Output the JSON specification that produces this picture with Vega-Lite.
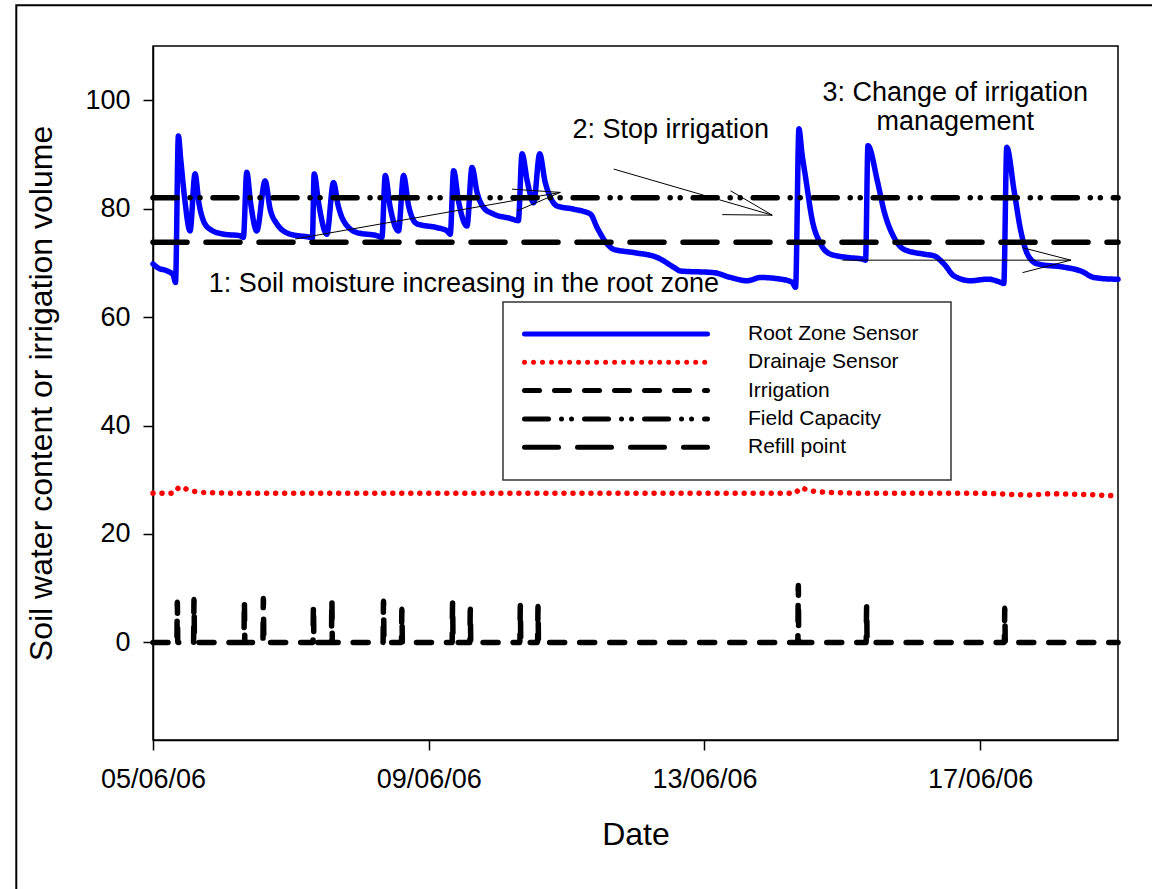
{
  "$schema": "https://vega.github.io/schema/vega-lite/v6.json",
  "autosize": {"type": "none"},
  "padding": {"left": 153, "top": 46, "right": 34, "bottom": 149},
  "width": 965,
  "height": 694,
  "background": "white",
  "config": {
    "view": {"stroke": "black", "strokeWidth": 1.5},
    "font": "Liberation Sans",
    "axis": {
      "grid": false, "domainColor": "black", "domainWidth": 1.5,
      "tickColor": "black", "tickWidth": 1.5, "tickSize": 10,
      "labelFont": "Liberation Sans", "labelFontSize": 27, "labelColor": "black",
      "titleFont": "Liberation Sans", "titleFontSize": 32, "titleFontWeight": "normal", "titleColor": "black"
    },
    "legend": {
      "padding": 19, "strokeColor": "#333333", "strokeWidth": 1.5, "fillColor": "white",
      "labelFont": "Liberation Sans", "labelFontSize": 21, "labelColor": "black",
      "symbolType": "stroke", "symbolSize": 33489, "symbolStrokeWidth": 5,
      "clipHeight": 26, "rowPadding": 2.3, "labelOffset": 38, "labelLimit": 400
    }
  },
  "datasets": {
    "series": [
      {"series": "Root Zone Sensor", "t": "2006-06-05T00:00", "v": 69.8},
      {"series": "Root Zone Sensor", "t": "2006-06-05T02:00", "v": 69.0},
      {"series": "Root Zone Sensor", "t": "2006-06-05T04:30", "v": 68.6},
      {"series": "Root Zone Sensor", "t": "2006-06-05T07:00", "v": 67.8},
      {"series": "Root Zone Sensor", "t": "2006-06-05T07:50", "v": 66.4},
      {"series": "Root Zone Sensor", "t": "2006-06-05T08:50", "v": 93.4},
      {"series": "Root Zone Sensor", "t": "2006-06-05T09:40", "v": 89.0},
      {"series": "Root Zone Sensor", "t": "2006-06-05T11:00", "v": 82.0},
      {"series": "Root Zone Sensor", "t": "2006-06-05T12:54", "v": 75.9},
      {"series": "Root Zone Sensor", "t": "2006-06-05T14:38", "v": 86.4},
      {"series": "Root Zone Sensor", "t": "2006-06-05T16:00", "v": 81.0},
      {"series": "Root Zone Sensor", "t": "2006-06-05T17:32", "v": 77.8},
      {"series": "Root Zone Sensor", "t": "2006-06-05T19:52", "v": 76.2},
      {"series": "Root Zone Sensor", "t": "2006-06-06T00:30", "v": 75.3},
      {"series": "Root Zone Sensor", "t": "2006-06-06T06:19", "v": 75.0},
      {"series": "Root Zone Sensor", "t": "2006-06-06T07:28", "v": 74.7},
      {"series": "Root Zone Sensor", "t": "2006-06-06T08:39", "v": 86.7},
      {"series": "Root Zone Sensor", "t": "2006-06-06T10:00", "v": 81.0},
      {"series": "Root Zone Sensor", "t": "2006-06-06T12:08", "v": 75.9},
      {"series": "Root Zone Sensor", "t": "2006-06-06T15:02", "v": 85.1},
      {"series": "Root Zone Sensor", "t": "2006-06-06T16:45", "v": 80.0},
      {"series": "Root Zone Sensor", "t": "2006-06-06T19:07", "v": 77.2},
      {"series": "Root Zone Sensor", "t": "2006-06-06T23:45", "v": 75.3},
      {"series": "Root Zone Sensor", "t": "2006-06-07T06:43", "v": 74.7},
      {"series": "Root Zone Sensor", "t": "2006-06-07T07:30", "v": 74.6},
      {"series": "Root Zone Sensor", "t": "2006-06-07T08:07", "v": 86.4},
      {"series": "Root Zone Sensor", "t": "2006-06-07T09:40", "v": 81.0},
      {"series": "Root Zone Sensor", "t": "2006-06-07T12:32", "v": 75.3},
      {"series": "Root Zone Sensor", "t": "2006-06-07T14:50", "v": 84.8},
      {"series": "Root Zone Sensor", "t": "2006-06-07T16:30", "v": 80.5},
      {"series": "Root Zone Sensor", "t": "2006-06-07T18:19", "v": 77.8},
      {"series": "Root Zone Sensor", "t": "2006-06-07T22:59", "v": 75.6},
      {"series": "Root Zone Sensor", "t": "2006-06-08T05:58", "v": 75.0},
      {"series": "Root Zone Sensor", "t": "2006-06-08T07:42", "v": 74.7},
      {"series": "Root Zone Sensor", "t": "2006-06-08T08:52", "v": 86.1},
      {"series": "Root Zone Sensor", "t": "2006-06-08T10:30", "v": 80.5},
      {"series": "Root Zone Sensor", "t": "2006-06-08T13:29", "v": 75.9},
      {"series": "Root Zone Sensor", "t": "2006-06-08T15:14", "v": 86.1},
      {"series": "Root Zone Sensor", "t": "2006-06-08T17:00", "v": 80.5},
      {"series": "Root Zone Sensor", "t": "2006-06-08T19:54", "v": 77.2},
      {"series": "Root Zone Sensor", "t": "2006-06-09T02:52", "v": 76.5},
      {"series": "Root Zone Sensor", "t": "2006-06-09T06:22", "v": 75.9},
      {"series": "Root Zone Sensor", "t": "2006-06-09T07:30", "v": 75.3},
      {"series": "Root Zone Sensor", "t": "2006-06-09T08:40", "v": 87.0},
      {"series": "Root Zone Sensor", "t": "2006-06-09T10:20", "v": 81.5},
      {"series": "Root Zone Sensor", "t": "2006-06-09T13:20", "v": 76.8},
      {"series": "Root Zone Sensor", "t": "2006-06-09T15:04", "v": 87.6},
      {"series": "Root Zone Sensor", "t": "2006-06-09T16:50", "v": 83.0},
      {"series": "Root Zone Sensor", "t": "2006-06-09T19:07", "v": 80.2},
      {"series": "Root Zone Sensor", "t": "2006-06-09T22:36", "v": 79.0},
      {"series": "Root Zone Sensor", "t": "2006-06-10T04:25", "v": 78.2},
      {"series": "Root Zone Sensor", "t": "2006-06-10T07:12", "v": 77.8},
      {"series": "Root Zone Sensor", "t": "2006-06-10T08:30", "v": 90.1},
      {"series": "Root Zone Sensor", "t": "2006-06-10T10:20", "v": 85.0},
      {"series": "Root Zone Sensor", "t": "2006-06-10T12:32", "v": 81.1},
      {"series": "Root Zone Sensor", "t": "2006-06-10T14:38", "v": 90.1},
      {"series": "Root Zone Sensor", "t": "2006-06-10T16:30", "v": 85.0},
      {"series": "Root Zone Sensor", "t": "2006-06-10T18:21", "v": 82.1},
      {"series": "Root Zone Sensor", "t": "2006-06-10T20:41", "v": 80.5},
      {"series": "Root Zone Sensor", "t": "2006-06-11T02:29", "v": 79.9},
      {"series": "Root Zone Sensor", "t": "2006-06-11T08:18", "v": 79.0},
      {"series": "Root Zone Sensor", "t": "2006-06-11T10:38", "v": 76.5},
      {"series": "Root Zone Sensor", "t": "2006-06-11T14:07", "v": 73.5},
      {"series": "Root Zone Sensor", "t": "2006-06-11T16:25", "v": 72.5},
      {"series": "Root Zone Sensor", "t": "2006-06-11T23:23", "v": 71.9},
      {"series": "Root Zone Sensor", "t": "2006-06-12T07:32", "v": 71.0},
      {"series": "Root Zone Sensor", "t": "2006-06-12T13:20", "v": 69.2},
      {"series": "Root Zone Sensor", "t": "2006-06-12T15:40", "v": 68.5},
      {"series": "Root Zone Sensor", "t": "2006-06-13T03:16", "v": 68.2},
      {"series": "Root Zone Sensor", "t": "2006-06-13T09:05", "v": 67.3},
      {"series": "Root Zone Sensor", "t": "2006-06-13T14:55", "v": 66.7},
      {"series": "Root Zone Sensor", "t": "2006-06-13T19:32", "v": 67.3},
      {"series": "Root Zone Sensor", "t": "2006-06-14T02:31", "v": 67.0},
      {"series": "Root Zone Sensor", "t": "2006-06-14T06:35", "v": 66.4},
      {"series": "Root Zone Sensor", "t": "2006-06-14T07:44", "v": 65.5},
      {"series": "Root Zone Sensor", "t": "2006-06-14T08:54", "v": 94.7},
      {"series": "Root Zone Sensor", "t": "2006-06-14T10:00", "v": 90.0},
      {"series": "Root Zone Sensor", "t": "2006-06-14T11:13", "v": 85.8},
      {"series": "Root Zone Sensor", "t": "2006-06-14T13:34", "v": 77.8},
      {"series": "Root Zone Sensor", "t": "2006-06-14T16:27", "v": 73.5},
      {"series": "Root Zone Sensor", "t": "2006-06-14T19:56", "v": 71.6},
      {"series": "Root Zone Sensor", "t": "2006-06-15T01:46", "v": 71.0},
      {"series": "Root Zone Sensor", "t": "2006-06-15T06:59", "v": 70.7},
      {"series": "Root Zone Sensor", "t": "2006-06-15T08:06", "v": 70.5},
      {"series": "Root Zone Sensor", "t": "2006-06-15T08:56", "v": 91.6},
      {"series": "Root Zone Sensor", "t": "2006-06-15T12:13", "v": 85.1},
      {"series": "Root Zone Sensor", "t": "2006-06-15T14:31", "v": 79.6},
      {"series": "Root Zone Sensor", "t": "2006-06-15T18:00", "v": 74.7},
      {"series": "Root Zone Sensor", "t": "2006-06-15T21:29", "v": 72.5},
      {"series": "Root Zone Sensor", "t": "2006-06-16T04:27", "v": 71.6},
      {"series": "Root Zone Sensor", "t": "2006-06-16T07:56", "v": 71.3},
      {"series": "Root Zone Sensor", "t": "2006-06-16T11:25", "v": 69.8},
      {"series": "Root Zone Sensor", "t": "2006-06-16T14:54", "v": 67.6},
      {"series": "Root Zone Sensor", "t": "2006-06-16T20:43", "v": 66.7},
      {"series": "Root Zone Sensor", "t": "2006-06-17T02:33", "v": 67.0},
      {"series": "Root Zone Sensor", "t": "2006-06-17T07:11", "v": 66.4},
      {"series": "Root Zone Sensor", "t": "2006-06-17T08:14", "v": 66.2},
      {"series": "Root Zone Sensor", "t": "2006-06-17T09:16", "v": 91.3},
      {"series": "Root Zone Sensor", "t": "2006-06-17T11:49", "v": 83.3},
      {"series": "Root Zone Sensor", "t": "2006-06-17T14:09", "v": 75.9},
      {"series": "Root Zone Sensor", "t": "2006-06-17T16:29", "v": 71.6},
      {"series": "Root Zone Sensor", "t": "2006-06-17T19:58", "v": 69.8},
      {"series": "Root Zone Sensor", "t": "2006-06-18T05:14", "v": 69.2},
      {"series": "Root Zone Sensor", "t": "2006-06-18T11:04", "v": 68.5},
      {"series": "Root Zone Sensor", "t": "2006-06-18T15:42", "v": 67.3},
      {"series": "Root Zone Sensor", "t": "2006-06-18T22:40", "v": 67.0},
      {"series": "Root Zone Sensor", "t": "2006-06-19T00:00", "v": 67.0},

      {"series": "Drainaje Sensor", "t": "2006-06-05T00:00", "v": 27.5},
      {"series": "Drainaje Sensor", "t": "2006-06-05T07:00", "v": 27.5},
      {"series": "Drainaje Sensor", "t": "2006-06-05T09:30", "v": 28.7},
      {"series": "Drainaje Sensor", "t": "2006-06-05T12:00", "v": 28.2},
      {"series": "Drainaje Sensor", "t": "2006-06-05T15:00", "v": 27.8},
      {"series": "Drainaje Sensor", "t": "2006-06-05T20:00", "v": 27.6},
      {"series": "Drainaje Sensor", "t": "2006-06-06T12:00", "v": 27.5},
      {"series": "Drainaje Sensor", "t": "2006-06-10T12:00", "v": 27.5},
      {"series": "Drainaje Sensor", "t": "2006-06-14T07:30", "v": 27.5},
      {"series": "Drainaje Sensor", "t": "2006-06-14T09:30", "v": 28.5},
      {"series": "Drainaje Sensor", "t": "2006-06-14T12:00", "v": 28.1},
      {"series": "Drainaje Sensor", "t": "2006-06-14T18:00", "v": 27.7},
      {"series": "Drainaje Sensor", "t": "2006-06-15T12:00", "v": 27.5},
      {"series": "Drainaje Sensor", "t": "2006-06-17T00:00", "v": 27.5},
      {"series": "Drainaje Sensor", "t": "2006-06-17T18:00", "v": 27.2},
      {"series": "Drainaje Sensor", "t": "2006-06-18T00:00", "v": 27.4},
      {"series": "Drainaje Sensor", "t": "2006-06-18T12:00", "v": 27.3},
      {"series": "Drainaje Sensor", "t": "2006-06-19T00:00", "v": 27.0},

      {"series": "Irrigation", "t": "2006-06-05T00:00", "v": 0},
      {"series": "Irrigation", "t": "2006-06-05T08:18", "v": 0},
      {"series": "Irrigation", "t": "2006-06-05T08:28", "v": 7.4},
      {"series": "Irrigation", "t": "2006-06-05T08:38", "v": 0},
      {"series": "Irrigation", "t": "2006-06-05T14:07", "v": 0},
      {"series": "Irrigation", "t": "2006-06-05T14:17", "v": 7.9},
      {"series": "Irrigation", "t": "2006-06-05T14:27", "v": 0},
      {"series": "Irrigation", "t": "2006-06-06T07:39", "v": 0},
      {"series": "Irrigation", "t": "2006-06-06T07:49", "v": 7.6},
      {"series": "Irrigation", "t": "2006-06-06T07:59", "v": 0},
      {"series": "Irrigation", "t": "2006-06-06T14:16", "v": 0},
      {"series": "Irrigation", "t": "2006-06-06T14:26", "v": 8.1},
      {"series": "Irrigation", "t": "2006-06-06T14:36", "v": 0},
      {"series": "Irrigation", "t": "2006-06-07T07:42", "v": 0},
      {"series": "Irrigation", "t": "2006-06-07T07:52", "v": 6.8},
      {"series": "Irrigation", "t": "2006-06-07T08:02", "v": 0},
      {"series": "Irrigation", "t": "2006-06-07T14:07", "v": 0},
      {"series": "Irrigation", "t": "2006-06-07T14:17", "v": 7.9},
      {"series": "Irrigation", "t": "2006-06-07T14:27", "v": 0},
      {"series": "Irrigation", "t": "2006-06-08T08:06", "v": 0},
      {"series": "Irrigation", "t": "2006-06-08T08:16", "v": 7.6},
      {"series": "Irrigation", "t": "2006-06-08T08:26", "v": 0},
      {"series": "Irrigation", "t": "2006-06-08T14:30", "v": 0},
      {"series": "Irrigation", "t": "2006-06-08T14:40", "v": 6.1},
      {"series": "Irrigation", "t": "2006-06-08T14:50", "v": 0},
      {"series": "Irrigation", "t": "2006-06-09T08:09", "v": 0},
      {"series": "Irrigation", "t": "2006-06-09T08:19", "v": 7.3},
      {"series": "Irrigation", "t": "2006-06-09T08:29", "v": 0},
      {"series": "Irrigation", "t": "2006-06-09T14:19", "v": 0},
      {"series": "Irrigation", "t": "2006-06-09T14:29", "v": 6.1},
      {"series": "Irrigation", "t": "2006-06-09T14:39", "v": 0},
      {"series": "Irrigation", "t": "2006-06-10T07:44", "v": 0},
      {"series": "Irrigation", "t": "2006-06-10T07:54", "v": 6.8},
      {"series": "Irrigation", "t": "2006-06-10T08:04", "v": 0},
      {"series": "Irrigation", "t": "2006-06-10T13:54", "v": 0},
      {"series": "Irrigation", "t": "2006-06-10T14:04", "v": 6.6},
      {"series": "Irrigation", "t": "2006-06-10T14:14", "v": 0},
      {"series": "Irrigation", "t": "2006-06-14T08:31", "v": 0},
      {"series": "Irrigation", "t": "2006-06-14T08:41", "v": 10.5},
      {"series": "Irrigation", "t": "2006-06-14T08:51", "v": 0},
      {"series": "Irrigation", "t": "2006-06-15T08:19", "v": 0},
      {"series": "Irrigation", "t": "2006-06-15T08:29", "v": 6.6},
      {"series": "Irrigation", "t": "2006-06-15T08:39", "v": 0},
      {"series": "Irrigation", "t": "2006-06-17T08:25", "v": 0},
      {"series": "Irrigation", "t": "2006-06-17T08:35", "v": 6.3},
      {"series": "Irrigation", "t": "2006-06-17T08:45", "v": 0},
      {"series": "Irrigation", "t": "2006-06-19T00:00", "v": 0},

      {"series": "Field Capacity", "t": "2006-06-05T00:00", "v": 82.0},
      {"series": "Field Capacity", "t": "2006-06-19T00:00", "v": 82.0},
      {"series": "Refill point", "t": "2006-06-05T00:00", "v": 73.8},
      {"series": "Refill point", "t": "2006-06-19T00:00", "v": 73.8}
    ],
    "arrows": [
      {"t1": "2006-06-07T01:29", "v1": 74.4, "t2": "2006-06-10T21:50", "v2": 83.0},
      {"t1": "2006-06-10T05:00", "v1": 83.6, "t2": "2006-06-10T21:50", "v2": 83.0},
      {"t1": "2006-06-10T06:45", "v1": 79.6, "t2": "2006-06-10T21:50", "v2": 83.0},
      {"t1": "2006-06-11T16:25", "v1": 87.3, "t2": "2006-06-13T23:37", "v2": 78.8},
      {"t1": "2006-06-13T09:05", "v1": 83.3, "t2": "2006-06-13T23:37", "v2": 78.8},
      {"t1": "2006-06-13T06:12", "v1": 78.9, "t2": "2006-06-13T23:37", "v2": 78.8},
      {"t1": "2006-06-15T00:00", "v1": 70.5, "t2": "2006-06-18T07:35", "v2": 70.5},
      {"t1": "2006-06-17T14:45", "v1": 72.8, "t2": "2006-06-18T07:35", "v2": 70.5},
      {"t1": "2006-06-17T14:45", "v1": 68.2, "t2": "2006-06-18T07:35", "v2": 70.5}
    ],
    "notes": [
      {"t": "2006-06-09T12:17", "v": 64.55, "label": "1: Soil moisture increasing in the root zone"},
      {"t": "2006-06-12T12:17", "v": 93.1, "label": "2: Stop irrigation"},
      {"t": "2006-06-16T15:19", "v": 99.9, "label": "3: Change of irrigation\nmanagement"}
    ],
    "frame": [{"k": 1}]
  },
  "layer": [
    {
      "data": {"name": "frame"},
      "mark": {"type": "rect", "fillOpacity": 0, "stroke": "black", "strokeWidth": 2, "clip": false},
      "encoding": {
        "x": {"datum": {"year": 2006, "month": 6, "date": 3, "hours": 0, "minutes": 24}, "type": "temporal"},
        "x2": {"datum": {"year": 2006, "month": 6, "date": 21}},
        "y": {"datum": 117.5, "type": "quantitative"},
        "y2": {"datum": -60}
      }
    },
    {
      "data": {"name": "series"},
      "mark": {"type": "line", "strokeWidth": 5.5, "strokeCap": "round", "strokeJoin": "round", "interpolate": "monotone"},
      "encoding": {
        "x": {
          "field": "t", "type": "temporal",
          "scale": {"domain": [{"year": 2006, "month": 6, "date": 5}, {"year": 2006, "month": 6, "date": 19}], "nice": false},
          "axis": {
            "title": "Date", "format": "%d/%m/%y", "labelPadding": 16, "titlePadding": 27,
            "values": [
              {"year": 2006, "month": 6, "date": 5},
              {"year": 2006, "month": 6, "date": 9},
              {"year": 2006, "month": 6, "date": 13},
              {"year": 2006, "month": 6, "date": 17}
            ],
            "labelFlush": false, "labelOverlap": false
          }
        },
        "y": {
          "field": "v", "type": "quantitative",
          "scale": {"domain": [-18, 110], "nice": false, "zero": false},
          "axis": {"title": "Soil water content or irrigation volume", "values": [0, 20, 40, 60, 80, 100], "labelPadding": 13, "titlePadding": 26}
        },
        "color": {
          "field": "series", "type": "nominal",
          "scale": {
            "domain": ["Root Zone Sensor", "Drainaje Sensor", "Irrigation", "Field Capacity", "Refill point"],
            "range": ["#0000ff", "#ff0000", "#000000", "#000000", "#000000"]
          },
          "legend": {
            "title": " ", "titleOrient": "right", "titlePadding": 14, "titleFontSize": 21,
            "orient": "none", "legendX": 350, "legendY": 256,
            "encode": {"symbols": {"update": {"strokeCap": {"value": "round"}}}}
          }
        },
        "strokeDash": {
          "field": "series", "type": "nominal",
          "scale": {
            "domain": ["Root Zone Sensor", "Drainaje Sensor", "Irrigation", "Field Capacity", "Refill point"],
            "range": [[1, 0], [0.01, 9], [15, 15], [24, 13, 0.01, 10, 0.01, 13], [34, 19]]
          },
          "legend": {
            "title": " ", "titleOrient": "right", "titlePadding": 14, "titleFontSize": 21,
            "orient": "none", "legendX": 350, "legendY": 256,
            "encode": {"symbols": {"update": {"strokeCap": {"value": "round"}}}}
          }
        }
      }
    },
    {
      "data": {"name": "arrows"},
      "mark": {"type": "rule", "color": "black", "strokeWidth": 1},
      "encoding": {
        "x": {"field": "t1", "type": "temporal"},
        "y": {"field": "v1", "type": "quantitative"},
        "x2": {"field": "t2"},
        "y2": {"field": "v2"}
      }
    },
    {
      "data": {"name": "notes"},
      "mark": {"type": "text", "font": "Liberation Sans", "fontSize": 27, "color": "black", "align": "center", "baseline": "alphabetic", "lineBreak": "\n", "lineHeight": 29.3},
      "encoding": {
        "x": {"field": "t", "type": "temporal"},
        "y": {"field": "v", "type": "quantitative"},
        "text": {"field": "label"}
      }
    }
  ]
}
